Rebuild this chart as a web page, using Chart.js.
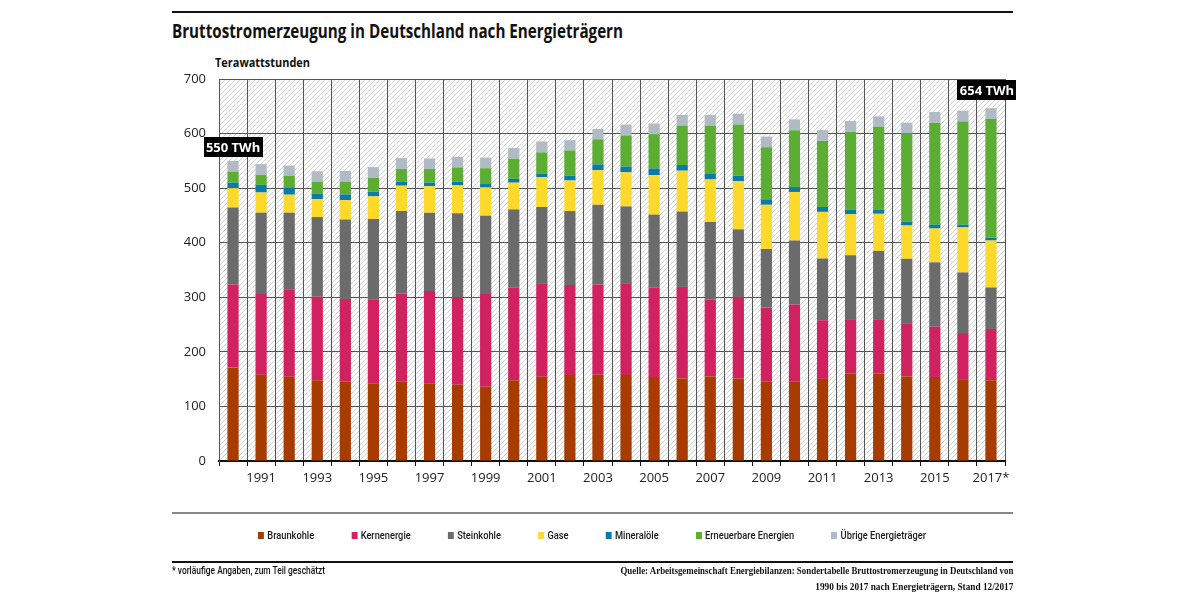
<!DOCTYPE html>
<html lang="de">
<head>
<meta charset="utf-8">
<title>Bruttostromerzeugung in Deutschland nach Energieträgern</title>
<script src="https://cdn.jsdelivr.net/npm/chart.js@4.4.1/dist/chart.umd.min.js"></script>
<style>
  html, body { margin: 0; padding: 0; background: #fff; }
  body { width: 1200px; height: 602px; position: relative; overflow: hidden; font-family: "Open Sans", "Noto Sans", sans-serif; color: #111; }
  #chart-box { position: absolute; left: 0; top: 0; width: 1200px; height: 602px; }
  .rule { position: absolute; left: 172px; width: 841px; }
  .fit { position: absolute; white-space: nowrap; display: inline-block; }
  #title { left: 172px; top: 18px; font-size: 19px; font-weight: 700; color: #111; }
  #unit { left: 215px; top: 53px; font-size: 13px; font-weight: 700; color: #111; }
  #legend { left: 258px; top: 529px; font-size: 11px; color: #1a1a1a; font-family: Roboto, sans-serif; font-weight: 500; }
  #legend span.item { display: inline-block; margin-right: 44px; }
  #legend span.item:last-child { margin-right: 0; }
  #legend span.sw { display: inline-block; width: 7px; height: 7px; margin-right: 4px; vertical-align: 0px; }
  #note { left: 172px; top: 565px; font-size: 10px; color: #111; font-family: Roboto, sans-serif; font-weight: 500; }
  .src { font-size: 10.5px; color: #111; font-family: "Liberation Serif", "DejaVu Serif", serif; font-weight: 700; }
</style>
</head>
<body>
<div class="rule" style="top:11px; height:2px; background:#111;"></div>
<div id="title" class="fit" data-w="451">Bruttostromerzeugung in Deutschland nach Energieträgern</div>
<div id="unit" class="fit" data-w="95">Terawattstunden</div>
<div id="chart-box"><canvas id="chart" width="1200" height="602"></canvas></div>
<div class="rule" style="top:512px; height:2px; background:#888;"></div>
<div id="legend" class="fit" data-w="668"></div>
<div class="rule" style="top:561px; height:2px; background:#111;"></div>
<div id="note" class="fit" data-w="153">* vorläufige Angaben, zum Teil geschätzt</div>
<div id="src1" class="fit src" data-w="393" data-right="1013" style="top:565px;">Quelle: Arbeitsgemeinschaft Energiebilanzen: Sondertabelle Bruttostromerzeugung in Deutschland von</div>
<div id="src2" class="fit src" data-w="198" data-right="1013" style="top:581px;">1990 bis 2017 nach Energieträgern, Stand 12/2017</div>

<script>
  // ---- data (TWh) ----
  var years = ['1990', '1991', '1992', '1993', '1994', '1995', '1996', '1997', '1998', '1999',
    '2000', '2001', '2002', '2003', '2004', '2005', '2006', '2007', '2008', '2009',
    '2010', '2011', '2012', '2013', '2014', '2015', '2016', '2017*'];

  var braunkohle = [171.5, 158, 154.5, 148, 146, 142.5, 145, 141.5, 139.5, 136,
    148, 154.5, 157.5, 158, 157.5, 154, 151.5, 155, 151, 146,
    146, 150.5, 160, 160, 155, 154, 150, 148];
  var kernenergie = [152, 148, 159, 153, 151, 154, 162, 170, 161, 170,
    169.5, 171, 165, 165.5, 168, 163.5, 167.5, 140.5, 148.5, 135,
    141, 107.5, 100, 98.5, 97.5, 92, 84.5, 94];
  var steinkohle = [141, 149, 141.5, 146, 145.5, 147, 151, 143.5, 153.5, 143.5,
    143.5, 140, 135.5, 146, 141, 134, 138, 142.5, 125, 107.5,
    117, 113, 117, 126.5, 118, 118, 111, 76];
  var gase = [35.5, 37, 33, 33, 35.5, 41.5, 46.5, 48.5, 51, 51.5,
    49, 54.5, 56, 63.5, 62.5, 72.5, 75, 78, 88, 81,
    89, 85.5, 75.5, 68, 61, 62, 82.5, 86];
  var mineraloele = [10, 14, 13.5, 10, 10.5, 8.5, 7.5, 6.5, 6.5, 6.5,
    7, 7, 9, 10.5, 10.5, 12, 10.5, 10, 10.5, 10,
    9, 9, 8, 8, 7, 7, 5, 5];
  var erneuerbare = [20, 18, 21, 21.5, 23.5, 25.5, 23, 25, 26.5, 29,
    37, 38.5, 46, 46, 57, 63, 72, 88.5, 93.5, 95.5,
    104, 121, 143, 151.5, 162, 187, 189, 217.5];
  var uebrige = [20, 20, 19, 19.5, 19.5, 19.5, 20, 19.5, 19.5, 19.5,
    19.5, 20, 19, 19, 20, 19.5, 19.5, 19.5, 20, 19.5,
    20, 20, 19.5, 19, 19.5, 19.5, 20, 20];

  var seriesNames = ['Braunkohle', 'Kernenergie', 'Steinkohle', 'Gase', 'Mineralöle', 'Erneuerbare Energien', 'Übrige Energieträger'];
  var seriesData = [braunkohle, kernenergie, steinkohle, gase, mineraloele, erneuerbare, uebrige];
  var seriesColors = ['#a83c00', '#d1215f', '#6b6b6b', '#fcd92b', '#0a7aa8', '#5cae32', '#b0bbc6'];

  var yTicks = [0, 100, 200, 300, 400, 500, 600, 700];

  // callouts: [category index, value height of the box centre, text]
  var callouts = [[0, 575, '550 TWh'], [27, 680, '654 TWh']];

  // ---- hatched plot background ----
  function makeHatch() {
    var c = document.createElement('canvas');
    c.width = 5; c.height = 5;
    var g = c.getContext('2d');
    g.fillStyle = '#ffffff';
    g.fillRect(0, 0, 5, 5);
    g.strokeStyle = '#d4d4d4';
    g.lineWidth = 1;
    g.beginPath();
    g.moveTo(0, 5); g.lineTo(5, 0);
    g.moveTo(-1, 1); g.lineTo(1, -1);
    g.moveTo(4, 6); g.lineTo(6, 4);
    g.stroke();
    return c;
  }

  var hatchPlugin = {
    id: 'hatch',
    beforeDraw: function(chart) {
      var a = chart.chartArea, ctx = chart.ctx;
      ctx.save();
      ctx.fillStyle = ctx.createPattern(makeHatch(), 'repeat');
      ctx.fillRect(a.left, a.top, a.right - a.left, a.bottom - a.top);
      ctx.restore();
    }
  };

  var calloutPlugin = {
    id: 'callouts',
    afterDatasetsDraw: function(chart) {
      var ctx = chart.ctx, xs = chart.scales.x, ys = chart.scales.y;
      ctx.save();
      ctx.font = 'bold 13px "Open Sans", sans-serif';
      callouts.forEach(function(c) {
        var cx = xs.getPixelForValue(c[0]) - (c[0] === 27 ? 4 : 0);
        var cy = ys.getPixelForValue(c[1]);
        var w = 59, h = 20;
        ctx.fillStyle = '#000';
        ctx.fillRect(Math.round(cx - w / 2), Math.round(cy - h / 2), w, h);
        ctx.fillStyle = '#fff';
        ctx.textAlign = 'center';
        ctx.textBaseline = 'middle';
        ctx.fillText(c[2], cx, cy + 1);
      });
      ctx.restore();
    }
  };

  var tickFont = { family: '"Open Sans", sans-serif', size: 13 };

  new Chart(document.getElementById('chart').getContext('2d'), {
    type: 'bar',
    data: {
      labels: years,
      datasets: seriesData.map(function(d, i) {
        return {
          label: seriesNames[i],
          data: d,
          backgroundColor: seriesColors[i],
          borderWidth: 0,
          barPercentage: 0.4,
          categoryPercentage: 1
        };
      })
    },
    options: {
      responsive: false,
      animation: false,
      devicePixelRatio: 1,
      layout: { padding: { left: 160, right: 195, top: 79, bottom: 111 } },
      plugins: {
        legend: { display: false },
        tooltip: { enabled: false }
      },
      scales: {
        x: {
          stacked: true,
          offset: true,
          grid: { offset: true, color: '#555', lineWidth: 1, tickColor: '#111', tickLength: 5 },
          border: { color: '#111', width: 2 },
          ticks: {
            autoSkip: false,
            maxRotation: 0,
            padding: 4,
            color: '#222',
            font: tickFont,
            callback: function(v, i) { return i % 2 === 1 ? years[i] : ''; }
          },
          afterFit: function(s) { s.height = 30; }
        },
        y: {
          stacked: true,
          min: yTicks[0],
          max: yTicks[yTicks.length - 1],
          grid: { color: '#555', lineWidth: 1, drawTicks: false },
          border: { color: '#555', width: 1 },
          ticks: {
            stepSize: 100,
            padding: 13,
            color: '#222',
            font: tickFont
          },
          afterFit: function(s) { s.width = 59; }
        }
      }
    },
    plugins: [hatchPlugin, calloutPlugin]
  });

  // ---- legend ----
  var legend = document.getElementById('legend');
  legend.innerHTML = seriesNames.map(function(n, i) {
    return '<span class="item"><span class="sw" style="background:' + seriesColors[i] + '"></span>' + n + '</span>';
  }).join('');

  // squeeze text blocks to the widths of the reference (condensed face)
  function fitAll() {
    var els = document.querySelectorAll('.fit');
    for (var i = 0; i < els.length; i++) {
      var el = els[i];
      var target = parseFloat(el.getAttribute('data-w'));
      var w = el.getBoundingClientRect().width;
      var k = target / w;
      var right = el.getAttribute('data-right');
      if (right) {
        el.style.left = (parseFloat(right) - w) + 'px';
        el.style.transformOrigin = 'right top';
      } else {
        el.style.transformOrigin = 'left top';
      }
      el.style.transform = 'scaleX(' + k + ')';
    }
  }
  fitAll();
</script>
</body>
</html>
